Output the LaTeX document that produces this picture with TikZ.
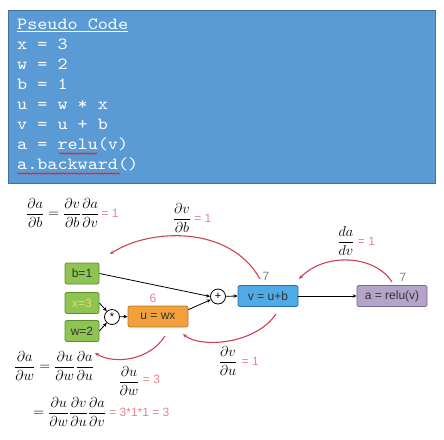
\documentclass[tikz,border=0pt]{standalone}
\usepackage[no-math]{fontspec}
\usepackage{amsmath}
\newfontfamily\lblfont{Liberation Sans}
\newfontfamily\codefont[FakeStretch=1.13]{lmmono10-regular.otf}
\usetikzlibrary{arrows.meta,decorations.pathmorphing}
\definecolor{codefill}{RGB}{91,155,213}
\definecolor{codeborder}{RGB}{65,113,156}
\definecolor{gfill}{RGB}{141,196,82}
\definecolor{gborder}{RGB}{95,140,45}
\definecolor{ofill}{RGB}{242,160,60}
\definecolor{oborder}{RGB}{190,120,40}
\definecolor{bfill}{RGB}{80,170,230}
\definecolor{bborder}{RGB}{40,110,170}
\definecolor{pfill}{RGB}{180,165,200}
\definecolor{pborder}{RGB}{120,100,150}
\definecolor{pinktxt}{RGB}{235,130,145}
\definecolor{arcred}{RGB}{205,65,85}
\definecolor{xtxt}{RGB}{232,222,110}
\tikzset{
  codetxt/.style={anchor=base west, inner sep=0pt, text=white, font=\codefont\fontsize{17}{20}\selectfont},
  nbox/.style={draw, rounded corners=2pt, line width=0.8pt, inner sep=0pt, minimum height=21pt, text=black!80, font=\lblfont\fontsize{12}{14}\selectfont},
  gbox/.style={nbox, fill=gfill, draw=gborder, minimum width=34pt},
  opnode/.style={draw, circle, line width=0.8pt, minimum size=15pt, inner sep=0pt, fill=white, font=\lblfont\fontsize{11}{13}\selectfont},
  conn/.style={line width=0.8pt, -{Stealth[length=4pt,width=3.5pt]}},
  redarc/.style={draw=arcred, line width=1.1pt, -{Stealth[length=4pt,width=3.5pt]}},
  pinklbl/.style={text=pinktxt, inner sep=0pt, font=\lblfont\fontsize{12}{14}\selectfont},
  mathlbl/.style={inner sep=0pt, font=\fontsize{14}{16}\selectfont},
  wavy/.style={draw=red, line width=0.5pt, decorate, decoration={snake, amplitude=0.8pt, segment length=3pt}}
}
\begin{document}
\begin{tikzpicture}[x=1pt,y=-1pt]
\useasboundingbox (0,0) rectangle (444,439);
% code box
\draw[fill=codefill, draw=codeborder, line width=1pt] (8,10) rectangle (435,183);
\node[codetxt] (c0) at (17,29.0) {\underline{Pseudo Code}};
\node[codetxt] (c1) at (17,49.1) {x = 3};
\node[codetxt] (c2) at (17,69.2) {w = 2};
\node[codetxt] (c3) at (17,89.3) {b = 1};
\node[codetxt] (c4) at (17,109.4) {u = w * x};
\node[codetxt] (c5) at (17,129.5) {v = u + b};
\node[codetxt] (c6) at (17,149.6) {a = relu(v)};
\node[codetxt] (c7) at (17,169.7) {a.backward()};
\draw[wavy] (59,153.5) -- (97,153.5);
\draw[wavy] (17,173.5) -- (120,173.5);
% graph nodes
\node[gbox] (b) at (82,273.5) {b=1};
\node[gbox, text=xtxt] (x) at (82,303) {x=3};
\node[gbox] (w) at (82,331) {w=2};
\node[opnode] (mul) at (112,317) {*};
\node[nbox, fill=ofill, draw=oborder, minimum width=60pt] (u) at (158,316.5) {u = wx};
\node[opnode] (plus) at (218,296.5) {+};
\node[nbox, fill=bfill, draw=bborder, minimum width=60pt] (v) at (268,296) {v = u+b};
\node[nbox, fill=pfill, draw=pborder, minimum width=70pt] (a) at (392,296) {a = relu(v)};
\node[pinklbl] (six) at (153,298) {6};
\node[pinklbl, text=black!50] (sevenv) at (266,276) {7};
\node[pinklbl, text=black!50] (sevena) at (403,277) {7};
% connectors
\draw[conn] (b.east) -- (plus.west);
\draw[conn] (x.east) -- (mul);
\draw[conn] (w.east) -- (mul);
\draw[conn] (mul) -- (u.west);
\draw[conn] (u.north east) ++(0,4) coordinate (uo) (uo) -- (plus);
\draw[conn] (plus) -- (v.west);
\draw[conn] (v.east) -- (a.west);
% red arcs
\coordinate (r1s) at (260,279); \coordinate (r1e) at (110,254);
\draw[redarc] (r1s) .. controls (230,225) and (150,228) .. (r1e);
\coordinate (r2s) at (392,282); \coordinate (r2e) at (299,279);
\draw[redarc] (r2s) .. controls (375,255) and (325,252) .. (r2e);
\coordinate (r3s) at (276,314); \coordinate (r3e) at (183,334);
\draw[redarc] (r3s) .. controls (255,345) and (200,348) .. (r3e);
\coordinate (r4s) at (165,336); \coordinate (r4e) at (95,353);
\draw[redarc] (r4s) .. controls (150,360) and (115,365) .. (r4e);
% equations
\node[mathlbl, anchor=west] (e1) at (26,213) {$\dfrac{\partial a}{\partial b}=\dfrac{\partial v}{\partial b}\dfrac{\partial a}{\partial v}$};
\node[pinklbl, anchor=west] (e1v) at (e1.east) {\,= 1};
\node[mathlbl] (e2) at (182,218) {$\dfrac{\partial v}{\partial b}$};
\node[pinklbl, anchor=west] (e2v) at ([xshift=3pt]e2.east) {= 1};
\node[mathlbl] (e3) at (346,241) {$\dfrac{da}{dv}$};
\node[pinklbl, anchor=west] (e3v) at ([xshift=3pt]e3.east) {= 1};
\node[mathlbl, anchor=west] (e4) at (14,366) {$\dfrac{\partial a}{\partial w}=\dfrac{\partial u}{\partial w}\dfrac{\partial a}{\partial u}$};
\node[mathlbl] (e5) at (129,381) {$\dfrac{\partial u}{\partial w}$};
\node[pinklbl, anchor=west] (e5v) at ([xshift=3pt,yshift=2pt]e5.east) {= 3};
\node[mathlbl] (e6) at (228,361) {$\dfrac{\partial v}{\partial u}$};
\node[pinklbl, anchor=west] (e6v) at ([xshift=4pt]e6.east) {= 1};
\node[mathlbl, anchor=west] (e7) at (33,412) {$=\dfrac{\partial u}{\partial w}\dfrac{\partial v}{\partial u}\dfrac{\partial a}{\partial v}$};
\node[pinklbl, anchor=west] (e7v) at ([xshift=3pt]e7.east) {= 3*1*1 = 3};
\end{tikzpicture}
\end{document}
